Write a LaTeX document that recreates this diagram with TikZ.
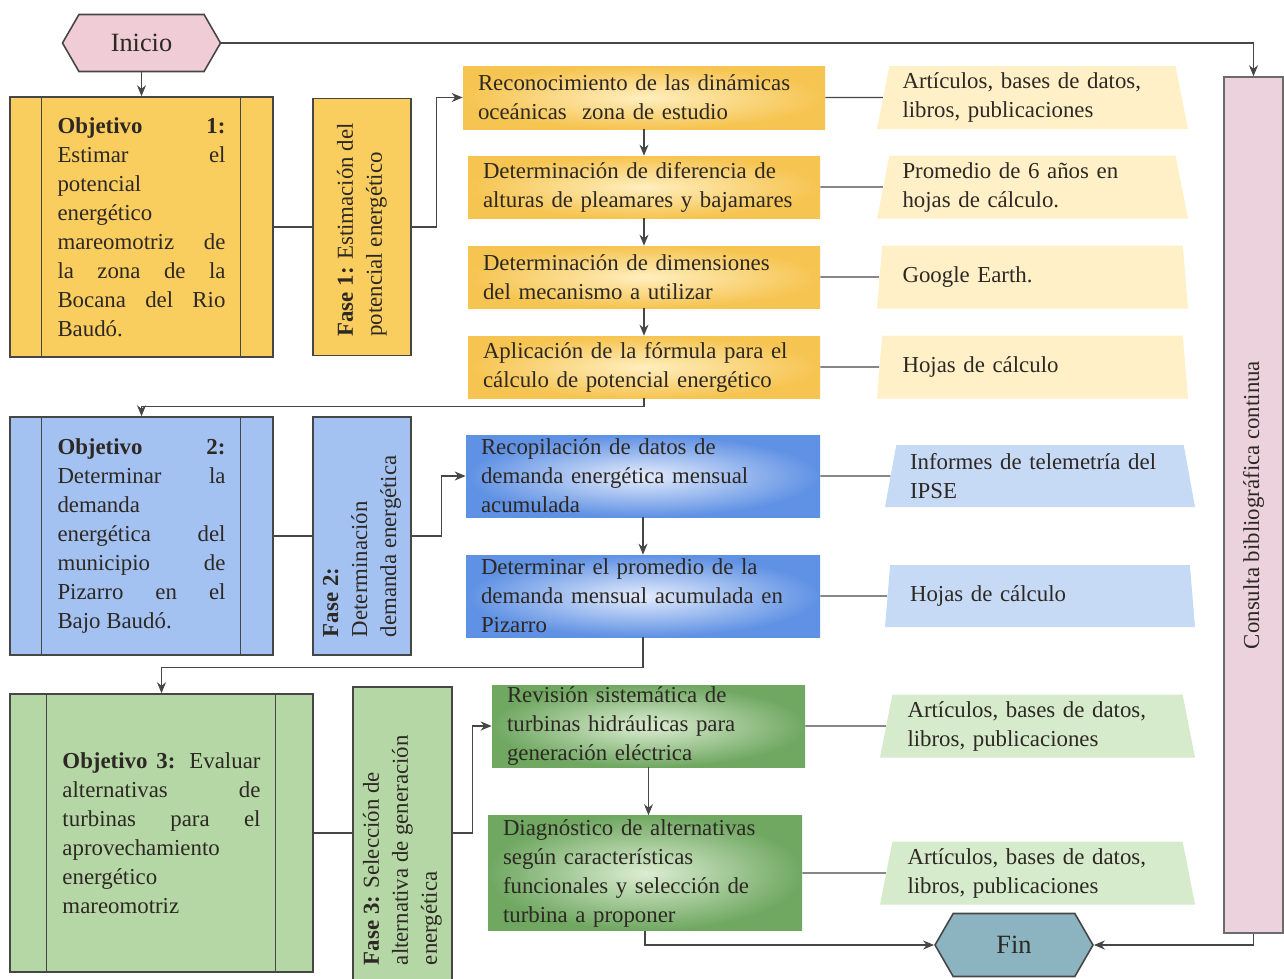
\documentclass[tikz,border=0pt]{standalone}
\usepackage{fontspec}
\setmainfont{Liberation Serif}
\usepackage{tikz}
\usetikzlibrary{shapes.geometric,shapes.symbols,arrows.meta}
\hyphenpenalty=10000
\exhyphenpenalty=10000

\definecolor{txt}{RGB}{45,40,35}
\definecolor{bdr}{RGB}{70,70,70}
\definecolor{pinkF}{RGB}{240,205,214}
\definecolor{consF}{RGB}{236,210,221}
\definecolor{objY}{RGB}{250,205,95}
\definecolor{actYo}{RGB}{246,196,80}
\definecolor{actYi}{RGB}{255,238,190}
\definecolor{srcY}{RGB}{255,240,200}
\definecolor{objB}{RGB}{163,194,242}
\definecolor{actBo}{RGB}{95,145,228}
\definecolor{actBi}{RGB}{228,236,252}
\definecolor{srcB}{RGB}{198,217,245}
\definecolor{objG}{RGB}{180,215,165}
\definecolor{actGo}{RGB}{112,168,98}
\definecolor{actGi}{RGB}{220,237,210}
\definecolor{srcG}{RGB}{214,234,204}
\definecolor{finF}{RGB}{140,180,192}

\newcommand{\sidetext}[2]{\rotatebox{90}{\parbox{#1}{\raggedright #2}}}

\tikzset{
  line/.style={draw=bdr,line width=0.7pt},
  objbox/.style={draw=bdr,line width=0.9pt,rectangle,align=justify,inner sep=0pt},
  fasebox/.style={draw=bdr,line width=0.9pt,rectangle,inner sep=0pt},
  actbox/.style={rectangle,inner xsep=0.3cm,inner ysep=0pt,align=left},
  actY/.style={actbox,inner color=actYi,outer color=actYo},
  actB/.style={actbox,inner color=actBi,outer color=actBo},
  actG/.style={actbox,inner color=actGi,outer color=actGo},
  srcbox/.style={trapezium,trapezium angle=76,trapezium stretches body,minimum height=1.26cm,
    text width=5.2cm,align=left,inner sep=0pt},
  term/.style={signal,signal to=west and east,signal pointer angle=120,draw=bdr,line width=0.9pt,
    minimum width=3.16cm,minimum height=1.14cm,font=\fontsize{15}{18}\selectfont}
}

\begin{document}
\begin{tikzpicture}[font=\fontsize{13}{16.5}\selectfont,text=txt,>={Stealth[length=2.2mm,width=1.8mm]}]
\useasboundingbox (0,0) rectangle (25.68,-19.56);

\node [term,fill=pinkF] (ini) at(2.83,-0.86){Inicio};
\node [fasebox,draw=bdr!80,fill=consF,minimum width=1.18cm,minimum height=17.12cm] (cons) at(25.07,-10.1){\rotatebox{90}{Consulta bibliográfica continua}};

% Objetivo 1
\node [objbox,fill=objY,minimum width=5.26cm,minimum height=5.2cm,text width=3.36cm] (obj1) at(2.83,-4.54){\textbf{Objetivo 1:}\linebreak Estimar el\linebreak potencial\linebreak energético\linebreak mareomotriz de\linebreak la zona de la\linebreak Bocana del Rio\linebreak Baudó.};
\node [fasebox,fill=objY,minimum width=1.96cm,minimum height=5.14cm] (fase1) at(7.24,-4.54){\sidetext{4.38cm}{\textbf{Fase 1:} Estimación del\\ potencial energético}};

\node [actY,minimum height=1.26cm,text width=6.64cm] (a1) at(12.88,-1.95){Reconocimiento de las dinámicas\\ oceánicas~ zona de estudio};
\node [actY,minimum height=1.24cm,text width=6.44cm] (a2) at(12.88,-3.74){Determinación de diferencia de\\ alturas de pleamares y bajamares};
\node [actY,minimum height=1.24cm,text width=6.44cm] (a3) at(12.88,-5.54){Determinación de dimensiones\\ del mecanismo a utilizar};
\node [actY,minimum height=1.24cm,text width=6.44cm] (a4) at(12.88,-7.34){Aplicación de la fórmula para el\\ cálculo de potencial energético};

\node [srcbox,fill=srcY,minimum width=6.22cm] (ya1) at(20.65,-1.95){Artículos, bases de datos,\\ libros, publicaciones};
\node [srcbox,fill=srcY,minimum width=6.22cm] (ya2) at(20.65,-3.74){Promedio de 6 años en\\ hojas de cálculo.};
\node [srcbox,fill=srcY,minimum width=6.22cm] (ya3) at(20.65,-5.54){Google Earth.};
\node [srcbox,fill=srcY,minimum width=6.22cm] (ya4) at(20.65,-7.34){Hojas de cálculo};

% Objetivo 2
\node [objbox,fill=objB,minimum width=5.26cm,minimum height=4.76cm,text width=3.36cm] (obj2) at(2.83,-10.72){\textbf{Objetivo 2:}\linebreak Determinar la\linebreak demanda\linebreak energética del\linebreak municipio de\linebreak Pizarro en el\linebreak Bajo Baudó.};
\node [fasebox,fill=objB,minimum width=1.96cm,minimum height=4.76cm] (fase2) at(7.24,-10.72){\sidetext{4.04cm}{\textbf{Fase 2:}\\ Determinación\\ demanda energética}};

\node [actB,minimum height=1.64cm,text width=6.48cm] (b1) at(12.86,-9.52){Recopilación de datos de\\ demanda energética mensual\\ acumulada};
\node [actB,minimum height=1.64cm,text width=6.48cm] (b2) at(12.86,-11.92){Determinar el promedio de la\\ demanda mensual acumulada en\\ Pizarro};

\node [srcbox,fill=srcB,minimum width=6.2cm,minimum height=1.24cm] (yb1) at(20.8,-9.52){Informes de telemetría del\\ IPSE};
\node [srcbox,fill=srcB,minimum width=6.2cm,minimum height=1.24cm] (yb2) at(20.8,-11.92){Hojas de cálculo};

% Objetivo 3
\node [objbox,fill=objG,minimum width=6.06cm,minimum height=5.56cm,text width=3.96cm] (obj3) at(3.23,-16.66){\textbf{Objetivo 3:} Evaluar\linebreak alternativas de\linebreak turbinas para el\linebreak aprovechamiento\linebreak energético\linebreak mareomotriz};
\node [fasebox,fill=objG,minimum width=1.98cm,minimum height=6cm] (fase3) at(8.05,-16.74){\sidetext{5.12cm}{\textbf{Fase 3:} Selección de\\ alternativa de generación\\ energética}};

\node [actG,minimum height=1.64cm,text width=5.66cm] (c1) at(12.97,-14.52){Revisión sistemática de\\ turbinas hidráulicas para\\ generación eléctrica};
\node [actG,minimum height=2.3cm,text width=5.68cm] (c2) at(12.9,-17.46){Diagnóstico de alternativas\\ según características\\ funcionales y selección de\\ turbina a proponer};

\node [srcbox,fill=srcG,minimum width=6.3cm] (yc1) at(20.75,-14.52){Artículos, bases de datos,\\ libros, publicaciones};
\node [srcbox,fill=srcG,minimum width=6.3cm] (yc2) at(20.75,-17.46){Artículos, bases de datos,\\ libros, publicaciones};

\node [term,fill=finF,minimum height=1.26cm] (fin) at(20.28,-18.9){Fin};

\draw[line] ([xshift=0.64cm]obj1.north west) -- ([xshift=0.64cm]obj1.south west);
\draw[line] ([xshift=-0.66cm]obj1.north east) -- ([xshift=-0.66cm]obj1.south east);
\draw[line] ([xshift=0.64cm]obj2.north west) -- ([xshift=0.64cm]obj2.south west);
\draw[line] ([xshift=-0.66cm]obj2.north east) -- ([xshift=-0.66cm]obj2.south east);
\draw[line] ([xshift=0.74cm]obj3.north west) -- ([xshift=0.74cm]obj3.south west);
\draw[line] ([xshift=-0.76cm]obj3.north east) -- ([xshift=-0.76cm]obj3.south east);

\draw[line,->] (ini.east) -| (cons.north);
\draw[line,->] (ini.south) -- (obj1.north);
\draw[line] (obj1.east) -- (fase1.west);
\draw[line,->] (fase1.east) -- ++(0.5,0) |- (a1.west);
\draw[line,->] (a1.south) -- (a2.north);
\draw[line,->] (a2.south) -- (a3.north);
\draw[line,->] (a3.south) -- (a4.north);
\draw[line] (a1.east) -- (ya1.west);
\draw[line] (a2.east) -- (ya2.west);
\draw[line] (a3.east) -- (ya3.west);
\draw[line] (a4.east) -- (ya4.west);

\draw[line,->] (a4.south) -- ++(0,-0.16) -| (obj2.north);
\draw[line] (obj2.east) -- (fase2.west);
\draw[line,->] (fase2.east) -- ++(0.6,0) |- (b1.west);
\draw[line,->] (b1.south) -- (b2.north);
\draw[line] (b1.east) -- (yb1.west);
\draw[line] (b2.east) -- (yb2.west);

\draw[line,->] (b2.south) -- ++(0,-0.6) -| (obj3.north);
\draw[line] (obj3.east) -- (obj3.east -| fase3.west);
\draw[line,->] (obj3.east -| fase3.east) -- ++(0.4,0) |- (c1.west);
\draw[line,->] (c1.south) -- (c1.south |- c2.north);
\draw[line] (c1.east) -- (yc1.west);
\draw[line] (c2.east) -- (yc2.west);

\draw[line,->] (c2.south) |- (fin.west);
\draw[line,->] (cons.south) |- (fin.east);
\end{tikzpicture}
\end{document}
